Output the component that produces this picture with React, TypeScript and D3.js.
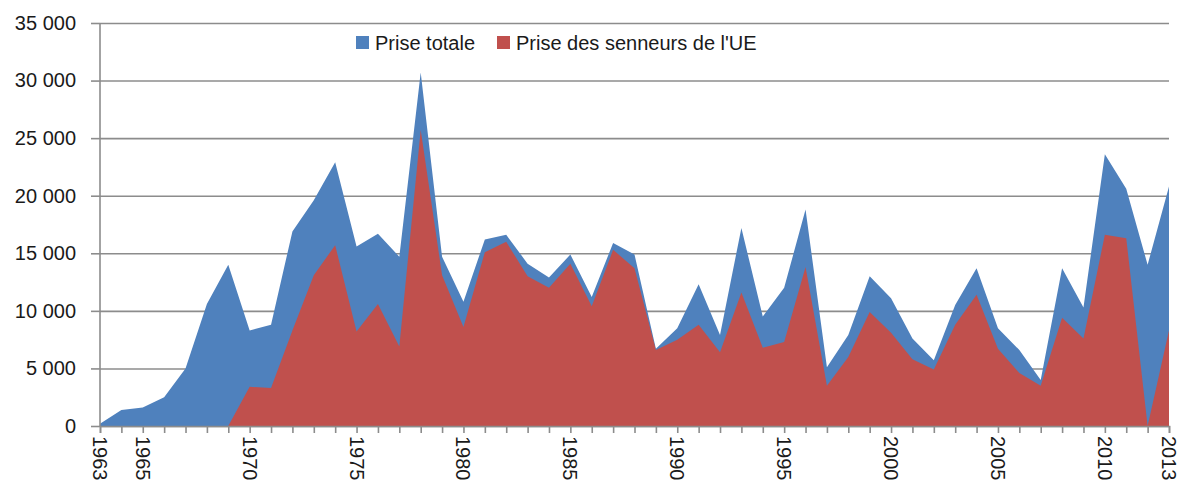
import * as d3 from "d3";
import React, { useRef, useEffect } from "react";

const years = d3.range(1963, 2014);

// Prise totale (t)
const totalCatch = [
  200, 1400, 1600, 2500, 5000, 10600, 14000, 8300, 8800, 16900,
  19600, 22900, 15600, 16700, 14700, 30700, 14700, 10800, 16200, 16600,
  14100, 12900, 14900, 11200, 15900, 14900, 6700, 8500, 12300, 7900,
  17200, 9500, 12000, 18800, 5100, 7900, 13000, 11100, 7600, 5700,
  10500, 13700, 8500, 6600, 4000, 13700, 10300, 23600, 20600, 14000,
  20800,
];

// Prise des senneurs de l'UE (t)
const euCatch = [
  0, 0, 0, 0, 0, 0, 0, 3400, 3300, 8300,
  13100, 15700, 8200, 10600, 6900, 25700, 13100, 8600, 15100, 16000,
  13000, 12000, 14100, 10400, 15300, 13700, 6600, 7500, 8800, 6400,
  11600, 6800, 7300, 13800, 3500, 6000, 9900, 8100, 5800, 4900,
  8800, 11400, 6700, 4600, 3500, 9400, 7600, 16600, 16300, 0,
  8300,
];

const yTicks = [0, 5000, 10000, 15000, 20000, 25000, 30000, 35000];
const labelYears = [1963, 1965, 1970, 1975, 1980, 1985, 1990, 1995, 2000, 2005, 2010, 2013];

const seriesNames = ["Prise totale", "Prise des senneurs de l'UE"];
const colors = ["#4F81BD", "#C0504D"];

const App = () => {
  const svgRef = useRef<SVGSVGElement>(null);

  useEffect(() => {
    const svg = d3.select(svgRef.current);
    svg.selectAll("*").remove();

    const margin = { top: 23, right: 11, bottom: 55, left: 100 };
    const width = 1180 - margin.left - margin.right;
    const height = 481 - margin.top - margin.bottom;
    const font = "'Liberation Sans', Arial, sans-serif";

    const x = d3.scaleLinear().domain([1963, 2013]).range([0, width]);
    const y = d3.scaleLinear().domain([0, 35000]).range([height, 0]);

    const g = svg.append("g").attr("transform", `translate(${margin.left},${margin.top})`);

    // gridlines + y axis
    const yAxis = g
      .append("g")
      .call(
        d3
          .axisLeft(y)
          .tickValues(yTicks)
          .tickSize(-width)
          .tickPadding(24)
          .tickFormat((d) => d3.format(",")(d as number).replace(/,/g, " "))
      );
    yAxis.select(".domain").remove();
    yAxis.selectAll(".tick line").attr("stroke", "#8c8c8c").attr("stroke-width", 1.6);
    yAxis
      .selectAll(".tick")
      .append("line")
      .attr("x1", -9)
      .attr("x2", 0)
      .attr("stroke", "#8c8c8c")
      .attr("stroke-width", 1.6);
    yAxis
      .selectAll(".tick text")
      .attr("font-family", font)
      .attr("font-size", 20)
      .attr("fill", "#1a1a1a");

    // areas, overlapped (not stacked)
    const area = (vals: number[]) =>
      d3
        .area<number>()
        .x((_, i) => x(years[i]))
        .y0(y(0))
        .y1((d) => y(d))(vals);

    g.append("path").attr("d", area(totalCatch)).attr("fill", colors[0]);
    g.append("path").attr("d", area(euCatch)).attr("fill", colors[1]);

    // vertical axis line
    g.append("line")
      .attr("x1", 0)
      .attr("x2", 0)
      .attr("y1", 0)
      .attr("y2", height)
      .attr("stroke", "#8c8c8c")
      .attr("stroke-width", 1.6);

    // x axis
    const xAxis = g
      .append("g")
      .attr("transform", `translate(0,${height})`)
      .call(d3.axisBottom(x).tickValues(years).tickSize(7).tickFormat(() => ""));
    xAxis.select(".domain").attr("stroke", "#8c8c8c").attr("stroke-width", 1.6);
    xAxis.selectAll(".tick line").attr("stroke", "#8c8c8c").attr("stroke-width", 1.6);

    // rotated year labels
    g.append("g")
      .selectAll("text")
      .data(labelYears)
      .enter()
      .append("text")
      .attr("transform", (d) => `translate(${x(d) - 7},${height + 10}) rotate(90)`)
      .attr("font-family", font)
      .attr("font-size", 20)
      .attr("fill", "#1a1a1a")
      .text((d) => d);

    // legend
    const legend = svg.append("g").attr("transform", "translate(356,36)");
    const items = legend
      .selectAll("g")
      .data(seriesNames)
      .enter()
      .append("g")
      .attr("transform", (_, i) => `translate(${i === 0 ? 0 : 141},0)`);
    items
      .append("rect")
      .attr("width", 13)
      .attr("height", 13)
      .attr("fill", (_, i) => colors[i]);
    items
      .append("text")
      .attr("x", 19)
      .attr("y", 14)
      .attr("font-family", font)
      .attr("font-size", 20)
      .attr("fill", "#1a1a1a")
      .text((d) => d);
  }, []);

  return (
    <svg
      ref={svgRef}
      width={1180}
      height={481}
      style={{ position: "absolute", left: 0, top: 0, background: "#fff" }}
    ></svg>
  );
};

export default App;
